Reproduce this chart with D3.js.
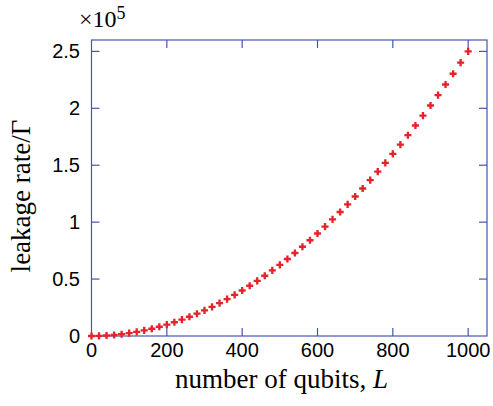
<!DOCTYPE html>
<html><head><meta charset="utf-8">
<script src="https://cdn.jsdelivr.net/npm/d3@7"></script>
<style>html,body{margin:0;padding:0;background:#fff;}svg{display:block;}</style>
</head><body>
<svg id="c" width="493" height="406"></svg>
<script>
const qubits = [0,20,40,60,80,100,120,140,160,180,200,220,240,260,280,300,320,340,360,380,400,420,440,460,480,500,520,540,560,580,600,620,640,660,680,700,720,740,760,780,800,820,840,860,880,900,920,940,960,980,1000];
const leakage = [0,100,400,900,1600,2500,3600,4900,6400,8100,10000,12100,14400,16900,19600,22500,25600,28900,32400,36100,40000,44100,48400,52900,57600,62500,67600,72900,78400,84100,90000,96100,102400,108900,115600,122500,129600,136900,144400,152100,160000,168100,176400,184900,193600,202500,211600,220900,230400,240100,250000];
const xTicks = [0,200,400,600,800,1000];
const yTicks = [0,50000,100000,150000,200000,250000];
const yTickLabels = ["0","0.5","1","1.5","2","2.5"];

const svg = d3.select("#c");
const L = 91.5, R = 487, T = 40, B = 336;
const axisColor = "#4656a8";
const x = d3.scaleLinear().domain([0,1050]).range([L,R]);
const y = d3.scaleLinear().domain([0,260000]).range([B,T]);

svg.append("rect").attr("x",L).attr("y",T).attr("width",R-L).attr("height",B-T)
  .attr("fill","none").attr("stroke",axisColor).attr("stroke-width",1.2);

const tl = 8;
const g = svg.append("g").attr("stroke",axisColor).attr("stroke-width",1.2);
xTicks.filter(d=>d>0).forEach(d=>{
  g.append("line").attr("x1",x(d)).attr("x2",x(d)).attr("y1",B).attr("y2",B-tl);
  g.append("line").attr("x1",x(d)).attr("x2",x(d)).attr("y1",T).attr("y2",T+tl);
});
yTicks.filter(d=>d>0).forEach(d=>{
  g.append("line").attr("y1",y(d)).attr("y2",y(d)).attr("x1",L).attr("x2",L+tl);
  g.append("line").attr("y1",y(d)).attr("y2",y(d)).attr("x1",R).attr("x2",R-tl);
});

const sans = "'Liberation Sans', Arial, Helvetica, sans-serif";
const serif = "'Liberation Serif', 'Times New Roman', serif";

svg.append("g").selectAll("text").data(xTicks).join("text")
  .attr("x",d=>x(d)).attr("y",B+20.5).attr("text-anchor","middle")
  .attr("font-family",sans).attr("font-size",20).attr("fill","#000")
  .text(d=>d);
svg.append("g").selectAll("text").data(yTicks).join("text")
  .attr("x",80).attr("y",d=>y(d)+7).attr("text-anchor","end")
  .attr("font-family",sans).attr("font-size",20).attr("fill","#000")
  .text((d,i)=>yTickLabels[i]);

const xl = svg.append("text").attr("x",281.5).attr("y",388).attr("text-anchor","middle")
  .attr("font-family",serif).attr("font-size",27).attr("fill","#000");
xl.append("tspan").text("number of qubits, ");
xl.append("tspan").attr("font-style","italic").text("L");

svg.append("text").attr("transform","translate(30,196) rotate(-90)")
  .attr("text-anchor","middle").attr("font-family",serif).attr("font-size",27).attr("fill","#000")
  .text("leakage rate/\u0393");

const ex = svg.append("text").attr("x",79).attr("y",27)
  .attr("font-family",serif).attr("font-size",24).attr("fill","#000");
ex.append("tspan").text("\u00d710");
ex.append("tspan").attr("dy",-8).attr("font-size",18).text("5");

const sym = d3.symbol().type(d3.symbolCross).size(28);
svg.append("g").selectAll("path").data(qubits).join("path")
  .attr("transform",(d,i)=>`translate(${x(d)},${y(leakage[i])})`)
  .attr("d",sym).attr("fill","#e3242b");
</script>
</body></html>
